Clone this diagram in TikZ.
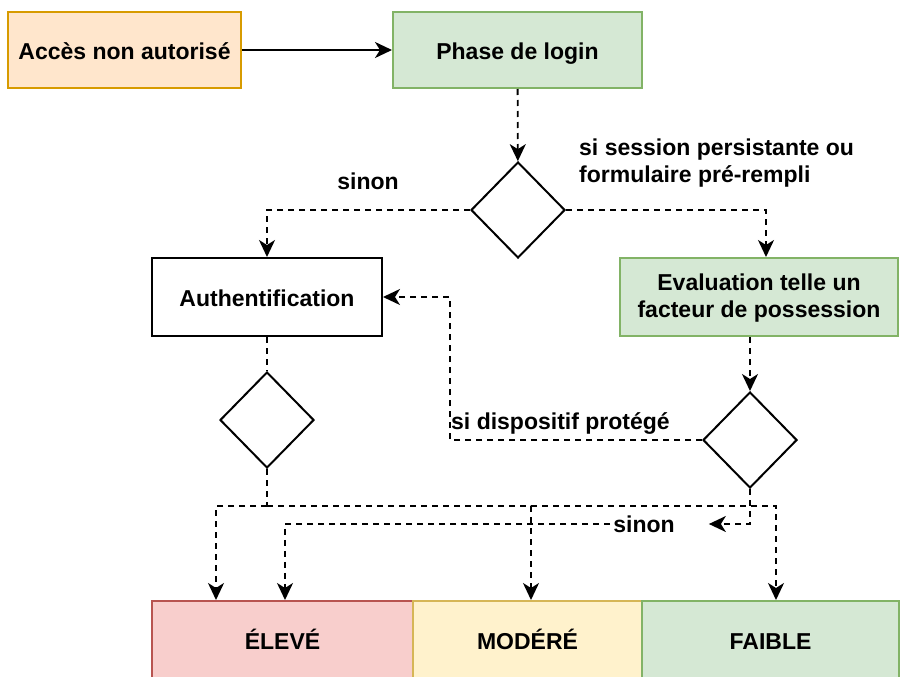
\documentclass[tikz,border=0pt]{standalone}
\usepackage{fontspec}
\setmainfont{Liberation Sans}
\usetikzlibrary{shapes.geometric,arrows.meta}
\definecolor{orangefond}{HTML}{FFE6CC}
\definecolor{orangetrait}{HTML}{D79B00}
\definecolor{vertfond}{HTML}{D5E8D4}
\definecolor{verttrait}{HTML}{82B366}
\definecolor{rougefond}{HTML}{F8CECC}
\definecolor{rougetrait}{HTML}{B85450}
\definecolor{jaunefond}{HTML}{FFF2CC}
\definecolor{jaunetrait}{HTML}{D6B656}

\begin{document}
\begin{tikzpicture}[x=1pt,y=-1pt,
  every node/.style={font=\fontsize{23}{27}\selectfont\bfseries},
  boite/.style={draw,line width=2pt,inner sep=0pt,align=center},
  ligne/.style={text height=21pt,text depth=2pt},
  choix/.style={diamond,draw,line width=2pt,minimum width=94pt,minimum height=96pt,inner sep=0pt},
  fleche/.style={line width=2pt,-{Stealth[length=17pt,width=16pt,inset=5pt]}},
  lien/.style={line width=1.8pt,dash pattern=on 6pt off 5pt},
  flux/.style={lien,-{Stealth[length=17pt,width=16pt,inset=5pt]}}]
\useasboundingbox (0,0) rectangle (900,677);
\clip (0,0) rectangle (900,677);
% boites
\node[boite,ligne,fill=orangefond,draw=orangetrait,minimum width=233pt,minimum height=76pt] (acces) at (124.5,50) {Accès non autorisé};
\node[boite,ligne,fill=vertfond,draw=verttrait,minimum width=249pt,minimum height=76pt] (login) at (517.5,50) {Phase de login};
\node[choix] (d1) at (518,210) {};
\node[boite,ligne,minimum width=230pt,minimum height=78pt] (auth) at (267,297) {Authentification};
\node[boite,fill=vertfond,draw=verttrait,minimum width=278pt,minimum height=78pt] (eval) at (759,297) {\rule{0pt}{19pt}Evaluation telle un\\facteur de possession};
\node[choix] (d2) at (267,420) {};
\node[choix] (d3) at (750,440) {};
\node[boite,ligne,fill=rougefond,draw=rougetrait,minimum width=261pt,minimum height=78pt] (eleve) at (282.5,640) {ÉLEVÉ};
\node[boite,ligne,fill=jaunefond,draw=jaunetrait,minimum width=229pt,minimum height=78pt] (modere) at (527.5,640) {MODÉRÉ};
\node[boite,ligne,fill=vertfond,draw=verttrait,minimum width=257pt,minimum height=78pt] (faible) at (770.5,640) {FAIBLE};
% etiquettes
\node (sinonA) at (368,181) {sinon};
\node[anchor=west,align=left,inner sep=0pt] (persist) at (579,163) {si session persistante ou\\formulaire pré-rempli};
\node[anchor=west,inner sep=0pt] (protege) at (451,423) {si dispositif protégé};
\node[inner sep=0pt] (sinonB) at (644,524) {sinon};
% liens
\draw[fleche] (acces) -- (login);
\draw[flux] (login) -- (d1);
\draw[flux] (d1.west) -| (auth.north);
\draw[flux] (d1.east) -| ([xshift=7pt]eval.north);
\draw[flux] (d3.north |- eval.south) -- (d3.north);
\draw[flux] (d3.west) -- ([xshift=-1pt]protege.south west |- d3.west) |- (auth.east);
\draw[lien] (auth) -- (d2);
\coordinate (bus) at (267,506);
\draw[lien] (d2.south) -- (bus);
\draw[flux] (bus) -| ([xshift=-66.5pt]eleve.north);
\draw[flux] (bus) -| ([xshift=3.5pt]modere.north);
\draw[flux] (bus) -| ([xshift=5.5pt]faible.north);
\draw[flux] (d3.south) |- ([xshift=34pt]sinonB.east);
\draw[flux] ([xshift=-3pt]sinonB.west) -| ([xshift=2.5pt]eleve.north);
\end{tikzpicture}
\end{document}
